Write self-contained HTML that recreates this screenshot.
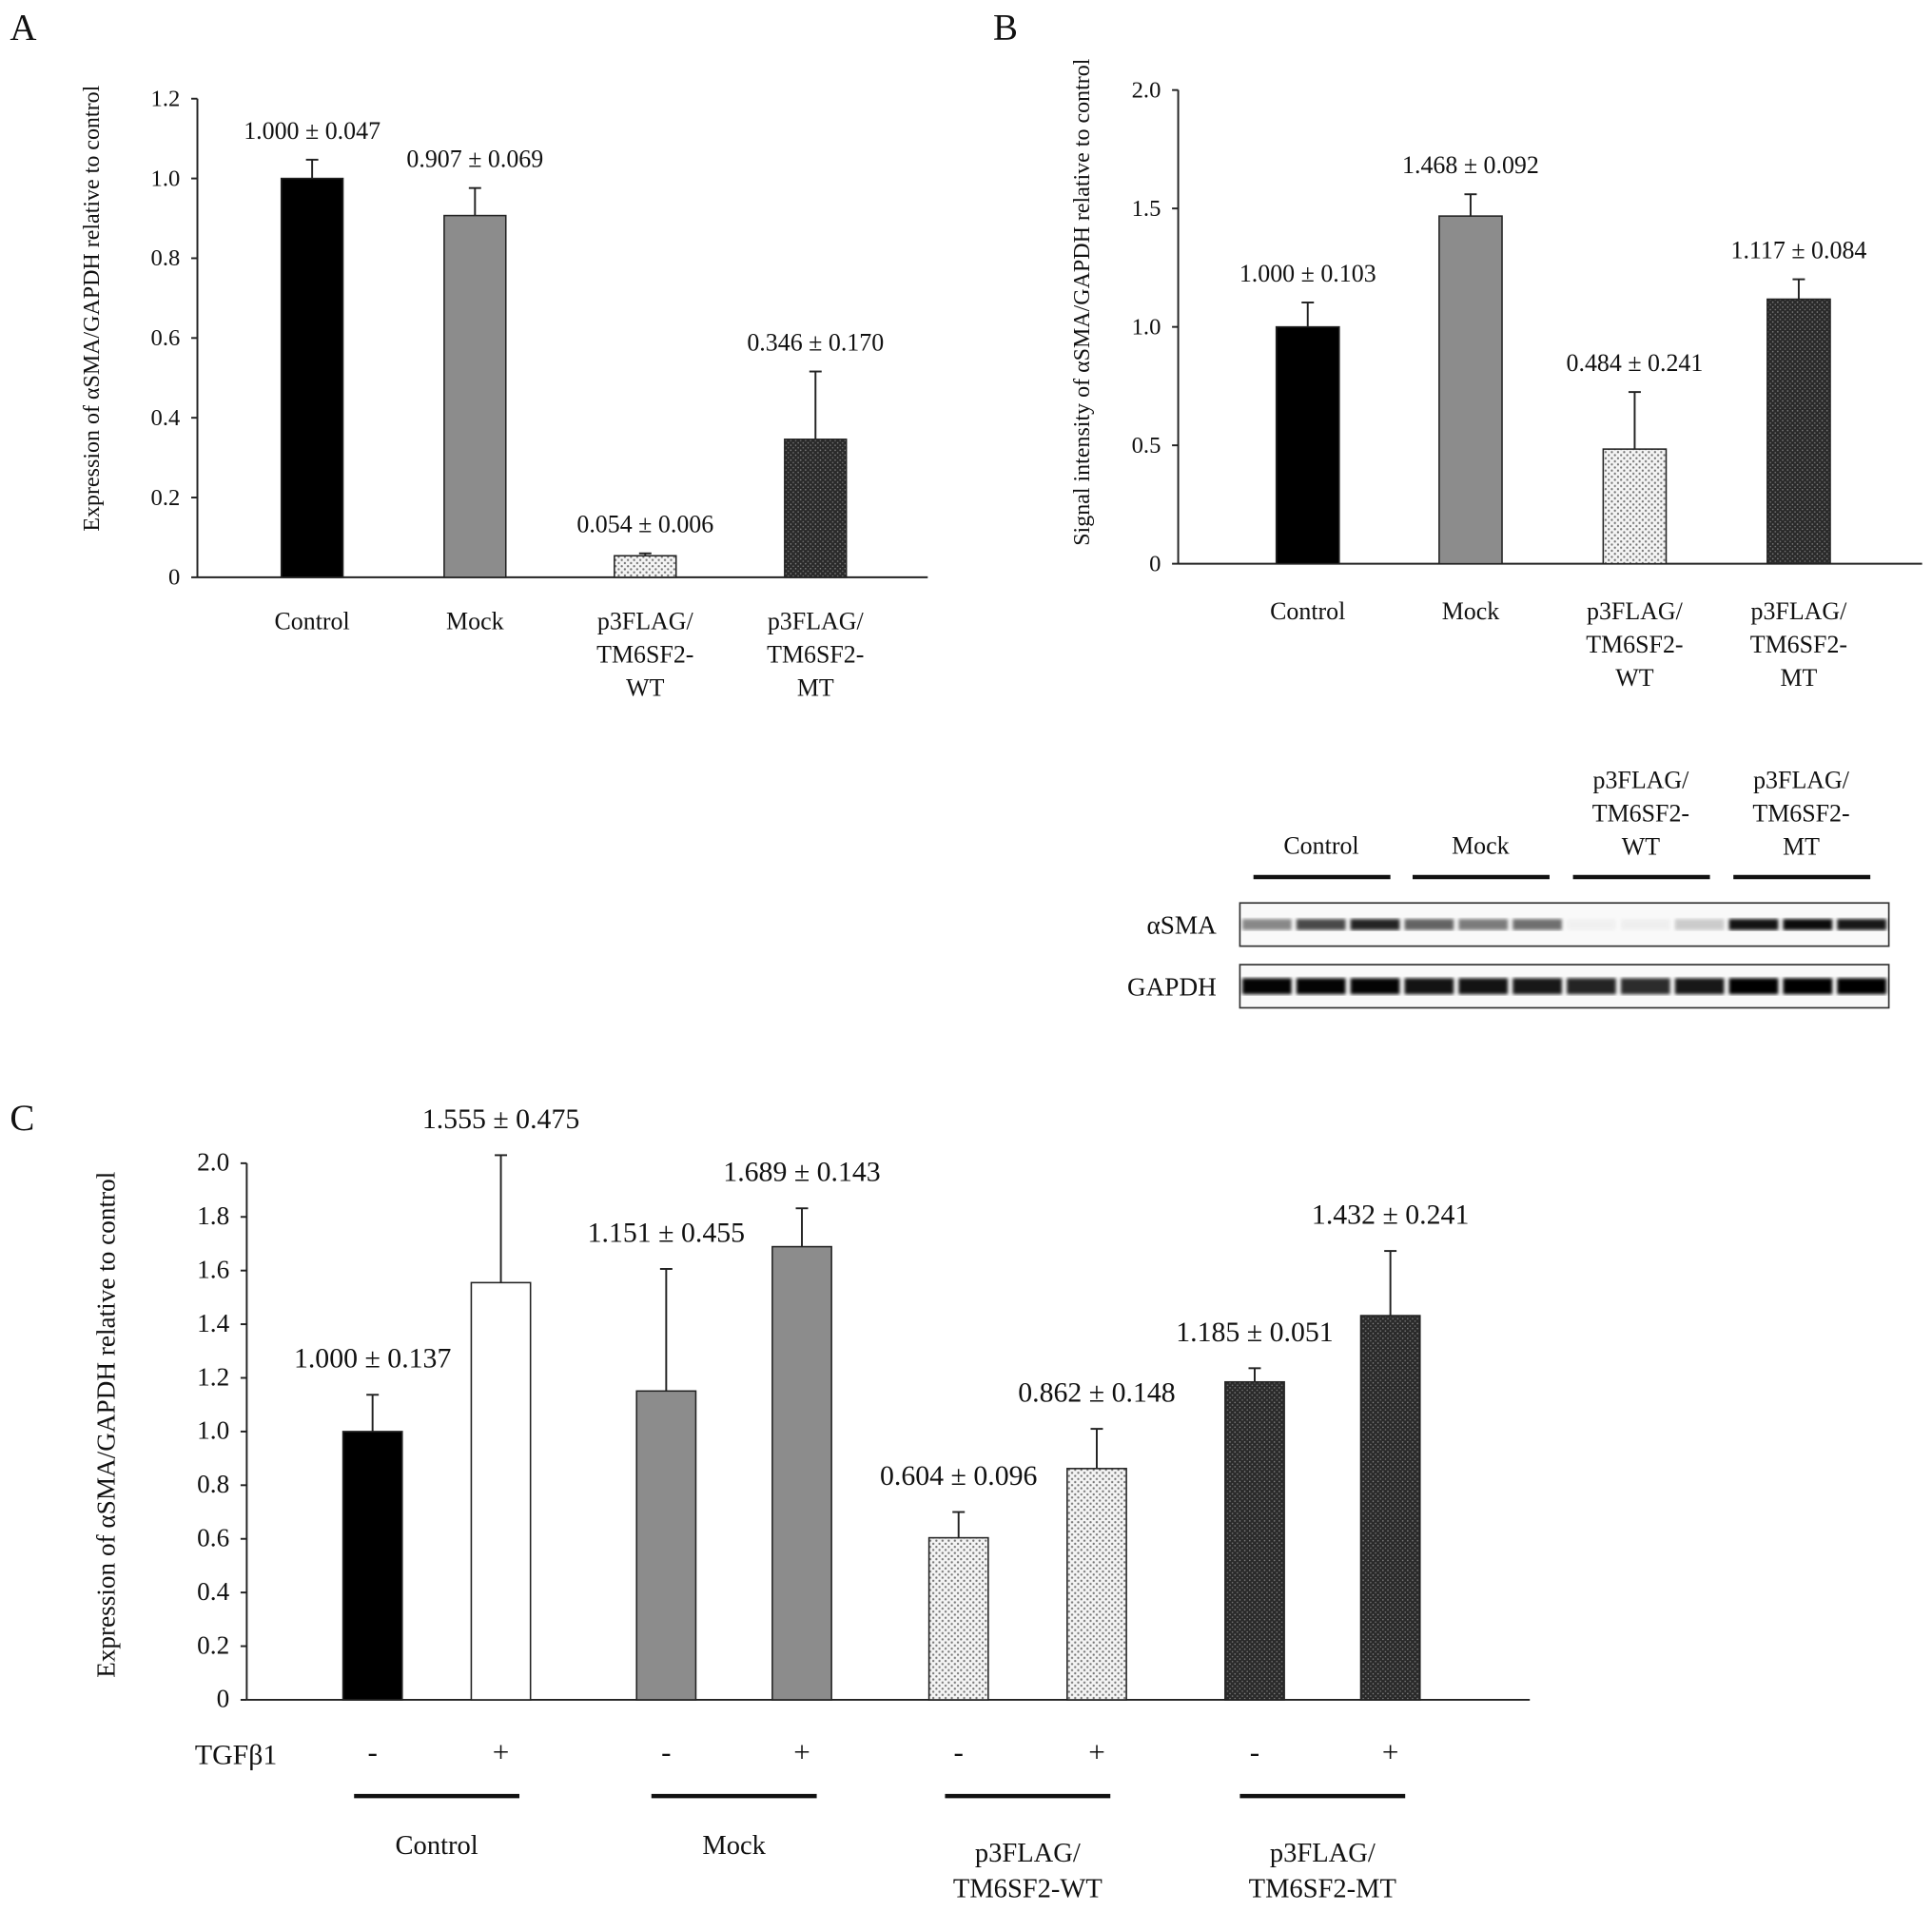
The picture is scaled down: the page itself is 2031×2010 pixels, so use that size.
<!DOCTYPE html>
<html><head><meta charset="utf-8"><style>
html,body{margin:0;padding:0;background:#fff}
svg{display:block}
text{font-family:"Liberation Serif",serif;fill:#111}
</style></head><body>
<svg id="fig" width="2031" height="2010" viewBox="0 0 1566 1550" preserveAspectRatio="none" xmlns="http://www.w3.org/2000/svg">
<defs>
<pattern id="pLight" width="5" height="5" patternUnits="userSpaceOnUse"><rect width="5" height="5" fill="#f4f4f4"/><circle cx="1.5" cy="1.5" r="0.9" fill="#777"/><circle cx="4" cy="4" r="0.9" fill="#777"/></pattern>
<pattern id="pDark" width="4" height="4" patternUnits="userSpaceOnUse"><rect width="4" height="4" fill="#2a2a2a"/><circle cx="1" cy="1" r="0.6" fill="#888"/><circle cx="3" cy="3" r="0.6" fill="#777"/></pattern>
<filter id="blur"><feGaussianBlur stdDeviation="1.5"/></filter>
</defs>
<g id="root"></g>
</svg>
<script>
// Panel A data
const aCats = ["Control","Mock","p3FLAG/TM6SF2-WT","p3FLAG/TM6SF2-MT"];
const aVals = [1.000, 0.907, 0.054, 0.346];
const aErrs = [0.047, 0.069, 0.006, 0.170];
const aTicks = ["0","0.2","0.4","0.6","0.8","1.0","1.2"];
// Panel B data
const bCats = ["Control","Mock","p3FLAG/TM6SF2-WT","p3FLAG/TM6SF2-MT"];
const bVals = [1.000, 1.468, 0.484, 1.117];
const bErrs = [0.103, 0.092, 0.241, 0.084];
const bTicks = ["0","0.5","1.0","1.5","2.0"];
// Blot intensities (12 lanes)
const smaBands = [0.45,0.7,0.85,0.6,0.5,0.55,0.03,0.04,0.18,0.92,0.95,0.9];
const gapdhBands = [0.98,0.98,0.98,0.92,0.92,0.9,0.85,0.82,0.9,1,1,1];
// Panel C data
const cTgf = ["-","+","-","+","-","+","-","+"];
const cVals = [1.000, 1.555, 1.151, 1.689, 0.604, 0.862, 1.185, 1.432];
const cErrs = [0.137, 0.475, 0.455, 0.143, 0.096, 0.148, 0.051, 0.241];
const cTicks = ["0","0.2","0.4","0.6","0.8","1.0","1.2","1.4","1.6","1.8","2.0"];

const NS="http://www.w3.org/2000/svg";
const root=document.getElementById('root');
function mk(tag,attrs,parent,txt){const e=document.createElementNS(NS,tag);for(const k in attrs)e.setAttribute(k,attrs[k]);if(txt!==undefined)e.textContent=txt;(parent||root).appendChild(e);return e;}
const fills=["#000","#8c8c8c","url(#pLight)","url(#pDark)"];
const fillsC=["#000","#fff","#8c8c8c","#8c8c8c","url(#pLight)","url(#pLight)","url(#pDark)","url(#pDark)"];

function panel(o){
  const g=mk('g',{});
  
  
  const y=v=>o.y0-(v/o.max)*(o.y0-o.yTop);
  const ax=mk('line',{x1:o.x0,y1:o.yTop,x2:o.x0,y2:o.y0,stroke:'#222','stroke-width':1.5},g);
  
  const xa=mk('line',{x1:o.x0,y1:o.y0,x2:o.xEnd,y2:o.y0,stroke:'#222','stroke-width':1.5},g);
  
  o.ticks.forEach((t,i)=>{
    const v=i*o.max/(o.ticks.length-1);
    mk('line',{x1:o.x0-5,y1:y(v),x2:o.x0,y2:y(v),stroke:'#222','stroke-width':1.5},g);
    const tt=mk('text',{x:o.x0-14,y:y(v)+6,'text-anchor':'end','font-size':o.tfs},g,t);
    
  });
  const ti=mk('text',{x:0,y:0,'text-anchor':'middle','font-size':o.titfs,transform:`translate(${o.titX},${o.titY}) rotate(-90)`},g,o.title);
  
  o.vals.forEach((v,i)=>{
    const cx=o.centers[i],w=o.bw;
    const r=mk('rect',{x:cx-w/2,y:y(v),width:w,height:o.y0-y(v),fill:o.fills[i],stroke:'#222','stroke-width':1.2},g);
    
    const et=y(v+o.errs[i]);
    const e1=mk('line',{x1:cx,y1:y(v),x2:cx,y2:et,stroke:'#222','stroke-width':1.5},g);
    
    mk('line',{x1:cx-5,y1:et,x2:cx+5,y2:et,stroke:'#222','stroke-width':1.5},g);
    const lb=mk('text',{x:cx,y:et-o.lblOff,'text-anchor':'middle','font-size':o.vfs},g,v.toFixed(3)+' \u00b1 '+o.errs[i].toFixed(3));
    
  });
  return {g,y};
}
function catLabel(g,cx,yy,cat,fs){
  const parts=cat.startsWith('p3FLAG')?["p3FLAG/","TM6SF2-",cat.slice(-2)]:[cat];
  parts.forEach((p,k)=>{const t=mk('text',{x:cx,y:yy+k*27,'text-anchor':'middle','font-size':fs},g,p);
    });
}
function letter(x,y,s){const t=mk('text',{x,y,'font-size':30},root,s);}
letter(8,32,'A');letter(805,32,'B');letter(8,916,'C');

// A
const A=panel({name:'panel-a-chart',x0:160,y0:468,yTop:80,xEnd:752,max:1.2,ticks:aTicks,vals:aVals,errs:aErrs,centers:[253,385,523,661],bw:50,fills,tfs:19,vfs:20,titfs:18.5,titX:80,titY:250,title:'Expression of \u03b1SMA/GAPDH relative to control',lblOff:17});
aCats.forEach((c,i)=>catLabel(A.g,[253,385,523,661][i],510,c,20));
// B
const B=panel({name:'panel-b-chart',x0:955,y0:457,yTop:73,xEnd:1558,max:2.0,ticks:bTicks,vals:bVals,errs:bErrs,centers:[1060,1192,1325,1458],bw:51,fills,tfs:19,vfs:20,titfs:18.5,titX:883,titY:245,title:'Signal intensity of \u03b1SMA/GAPDH relative to control',lblOff:17});
bCats.forEach((c,i)=>catLabel(B.g,[1060,1192,1325,1458][i],502,c,20));

// Blot
const blot=mk('g',{});
const gx=[1071,1200,1330,1460];
bCats.forEach((c,i)=>{
  if(c.startsWith('p3FLAG')){['p3FLAG/','TM6SF2-',c.slice(-2)].forEach((p,k)=>{const t=mk('text',{x:gx[i],y:639+k*27,'text-anchor':'middle','font-size':20},blot,p);});}
  else {const t=mk('text',{x:gx[i],y:692,'text-anchor':'middle','font-size':20},blot,c);}
  const l=mk('line',{x1:gx[i]-55,y1:711,x2:gx[i]+56,y2:711,stroke:'#111','stroke-width':3.5},blot);
  
});
[[732,'\u03b1SMA',smaBands,'sma'],[782,'GAPDH',gapdhBands,'gapdh']].forEach(([top,name,arr,key])=>{
  const lab=mk('text',{x:986,y:top+25,'text-anchor':'end','font-size':21},blot,name);
  
  const box=mk('rect',{x:1005,y:top,width:526,height:35,fill:'#f9f9f9',stroke:'#333','stroke-width':1.3},blot);
  
  arr.forEach((v,i)=>{
    const lw=526/12;
    const b=mk('rect',{x:1005+i*lw+2,y:top+(key==='sma'?13:11),width:lw-4,height:key==='sma'?9:13,fill:'#000',opacity:v,filter:'url(#blur)'},blot);
    
  });
});

// C
const cCenters=[302,406,540,650,777,889,1017,1127];
const C=panel({name:'panel-c-chart',x0:200,y0:1378,yTop:943,xEnd:1240,max:2.0,ticks:cTicks,vals:cVals,errs:cErrs,centers:cCenters,bw:48,fills:fillsC,tfs:21,vfs:23,titfs:21,titX:93,titY:1155,title:'Expression of \u03b1SMA/GAPDH relative to control',lblOff:22});
const tg=mk('text',{x:158,y:1430,'font-size':23},C.g,'TGF\u03b21');
cTgf.forEach((s,i)=>{const t=mk('text',{x:cCenters[i],y:1428,'text-anchor':'middle','font-size':24},C.g,s);});
const cGroups=[["Control"],["Mock"],["p3FLAG/","TM6SF2-WT"],["p3FLAG/","TM6SF2-MT"]];
cGroups.forEach((parts,i)=>{
  const cx=(cCenters[2*i]+cCenters[2*i+1])/2;
  const l=mk('line',{x1:cx-67,y1:1456,x2:cx+67,y2:1456,stroke:'#111','stroke-width':3.5},C.g);
  
  parts.forEach((p,k)=>{const t=mk('text',{x:cx,y:(parts.length>1?1509:1503)+k*29,'text-anchor':'middle','font-size':22},C.g,p);});
});
</script>
</body></html>
